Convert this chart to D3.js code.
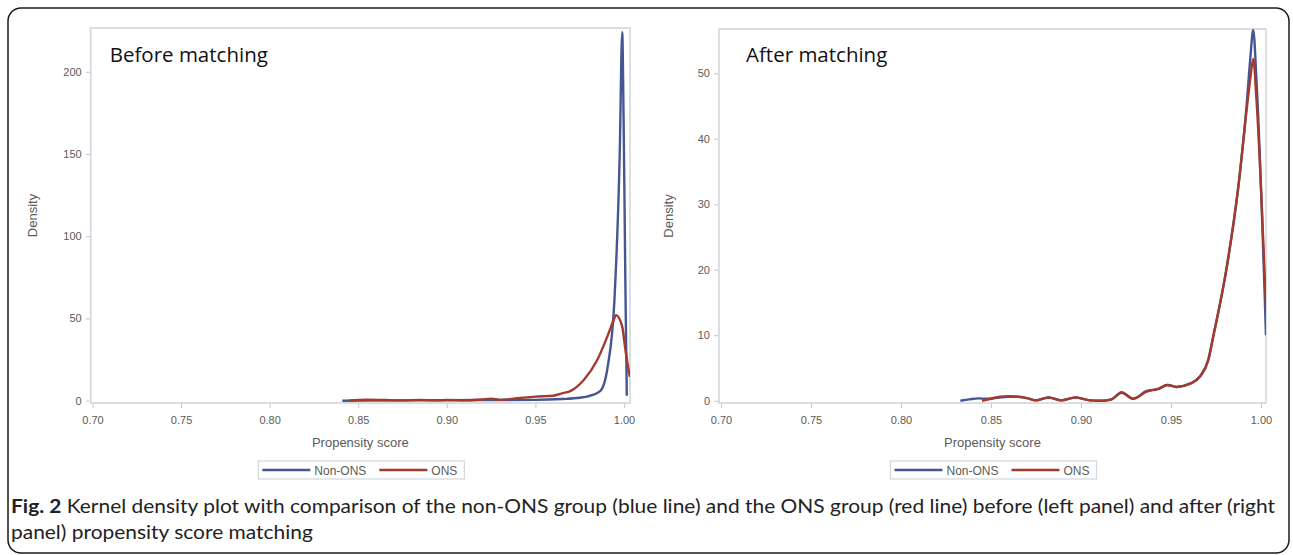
<!DOCTYPE html>
<html>
<head>
<meta charset="utf-8">
<script src="https://cdn.jsdelivr.net/npm/d3@7"></script>
<style>
  body { margin: 0; background: #fff; }
  svg { display: block; }
  .tick text { font-family: "Liberation Sans", Arial, sans-serif; fill: #5a5a5a; }
</style>
</head>
<body>
<div id="chart"></div>
<script>
const W = 1293, H = 555;

// x ticks shared by both panels
const xTicks = [0.70, 0.75, 0.80, 0.85, 0.90, 0.95, 1.00];
const yTicksBefore = [0, 50, 100, 150, 200];
const yTicksAfter = [0, 10, 20, 30, 40, 50];
const seriesNames = ["Non-ONS", "ONS"];
const seriesColors = ["#445694", "#a23a2e"];

// before matching, [propensity score, density]
const beforeNonOns = [
  [0.841, 0], [0.85, 0.1], [0.88, 0.2], [0.92, 0.4], [0.95, 0.5], [0.965, 1.0],
  [0.975, 1.8], [0.979, 2.5], [0.9867, 6], [0.9907, 20], [0.9946, 61],
  [0.9976, 150], [0.999, 224], [0.9998, 170], [1.0008, 70], [1.0016, 3]
];
const beforeOns = [
  [0.845, 0], [0.855, 0.6], [0.865, 0.4], [0.875, 0.2], [0.885, 0.5], [0.895, 0.2],
  [0.90, 0.5], [0.91, 0.2], [0.92, 0.8], [0.925, 1.2], [0.93, 0.5], [0.94, 1.5],
  [0.95, 2.5], [0.96, 3.0], [0.965, 4.5], [0.97, 6], [0.9773, 12.6], [0.9849, 24.7],
  [0.9906, 39], [0.9942, 49], [0.9955, 52], [0.999, 45], [1.0008, 31], [1.0033, 14.6]
];

// after matching
const afterNonOns = [
  [0.833, 0], [0.838, 0.2], [0.843, 0.35], [0.848, 0.3], [0.853, 0.45], [0.86, 0.6],
  [0.865, 0.6], [0.87, 0.4], [0.875, 0.05], [0.882, 0.5], [0.889, 0.05], [0.897, 0.5],
  [0.905, 0.05], [0.912, 0], [0.917, 0.2], [0.9226, 1.3], [0.929, 0.3], [0.9365, 1.5],
  [0.943, 1.8], [0.948, 2.4], [0.953, 2.1], [0.9606, 2.6], [0.9661, 3.7], [0.9707, 6.2],
  [0.9735, 9.8], [0.981, 20.4], [0.9874, 32.6], [0.992, 45], [0.994, 52], [0.9957, 56.6],
  [0.9975, 49], [1.0028, 10]
];
const afterOns = [
  [0.845, 0], [0.85, 0.3], [0.855, 0.6], [0.86, 0.7], [0.865, 0.6], [0.87, 0.4],
  [0.875, 0.05], [0.882, 0.5], [0.889, 0.05], [0.897, 0.5], [0.905, 0.05], [0.912, 0],
  [0.917, 0.2], [0.9226, 1.2], [0.929, 0.3], [0.9365, 1.4], [0.943, 1.8], [0.948, 2.4],
  [0.953, 2.1], [0.9606, 2.6], [0.9661, 3.7], [0.9707, 6.2], [0.9735, 9.8], [0.981, 20.4],
  [0.9874, 32.6], [0.992, 44.3], [0.994, 49], [0.9957, 52.2], [0.9975, 46], [1.0028, 14]
];

const panels = [
  { title: "Before matching", left: 90.7, right: 630, top: 28, bottom: 403,
    xDomain: [0.699, 1.0034], yDomain: [-1.4, 226.6], yTicks: yTicksBefore,
    titleDx: 19, labelDx: 54, series: [beforeNonOns, beforeOns] },
  { title: "After matching", left: 719, right: 1266, top: 29, bottom: 403,
    xDomain: [0.6989, 1.0028], yDomain: [-0.35, 56.76], yTicks: yTicksAfter,
    titleDx: 27, labelDx: 46, series: [afterNonOns, afterOns] }
];

const svg = d3.select("#chart").append("svg")
  .attr("width", W).attr("height", H);

// outer figure frame
svg.append("rect")
  .attr("x", 8).attr("y", 8).attr("width", 1281).attr("height", 545)
  .attr("rx", 13).attr("ry", 13)
  .attr("fill", "none").attr("stroke", "#1a1a1a").attr("stroke-width", 1.5);

panels.forEach((p, pi) => {
  const x = d3.scaleLinear().domain(p.xDomain).range([p.left, p.right]);
  const y = d3.scaleLinear().domain(p.yDomain).range([p.bottom, p.top]);
  const g = svg.append("g");

  g.append("clipPath").attr("id", "clip" + pi)
    .append("rect")
    .attr("x", p.left).attr("y", p.top - 2)
    .attr("width", p.right - p.left).attr("height", p.bottom - p.top + 2);

  // x axis
  const xa = g.append("g")
    .attr("transform", "translate(0," + p.bottom + ")")
    .call(d3.axisBottom(x).tickValues(xTicks).tickFormat(d3.format(".2f"))
      .tickSize(5).tickSizeOuter(0).tickPadding(8));
  xa.select(".domain").remove();
  xa.selectAll(".tick line").attr("stroke", "#c4c8cc");
  xa.selectAll(".tick text").attr("font-size", 11);

  // y axis
  const ya = g.append("g")
    .attr("transform", "translate(" + p.left + ",0)")
    .call(d3.axisLeft(y).tickValues(p.yTicks).tickSize(5).tickSizeOuter(0).tickPadding(4));
  ya.select(".domain").remove();
  ya.selectAll(".tick line").attr("stroke", "#c4c8cc");
  ya.selectAll(".tick text").attr("font-size", 11);

  // plot frame
  g.append("rect")
    .attr("x", p.left).attr("y", p.top)
    .attr("width", p.right - p.left).attr("height", p.bottom - p.top)
    .attr("fill", "none").attr("stroke", "#d3d7db").attr("stroke-width", 1.6);

  // density curves
  const line = d3.line()
    .x(d => x(d[0])).y(d => y(d[1]))
    .curve(d3.curveMonotoneX);
  p.series.forEach((s, si) => {
    g.append("path")
      .datum(s)
      .attr("clip-path", "url(#clip" + pi + ")")
      .attr("fill", "none")
      .attr("stroke", seriesColors[si])
      .attr("stroke-width", 2.4)
      .attr("stroke-linejoin", "round")
      .attr("d", line);
  });

  // panel title
  g.append("text")
    .attr("x", p.left + p.titleDx).attr("y", 62)
    .attr("font-family", "'Open Sans', sans-serif")
    .attr("font-size", 20.5)
    .attr("fill", "#111")
    .text(p.title);

  // axis titles
  const cx = (p.left + p.right) / 2;
  g.append("text")
    .attr("x", cx).attr("y", 447)
    .attr("text-anchor", "middle")
    .attr("font-family", "'Liberation Sans', Arial, sans-serif")
    .attr("font-size", 13).attr("fill", "#5a5a5a")
    .text("Propensity score");
  g.append("text")
    .attr("transform", "translate(" + (p.left - p.labelDx) + "," + ((p.top + p.bottom) / 2) + ") rotate(-90)")
    .attr("text-anchor", "middle")
    .attr("font-family", "'Liberation Sans', Arial, sans-serif")
    .attr("font-size", 13).attr("fill", "#5a5a5a")
    .text("Density");

  // legend
  const lw = 206, lx = cx - lw / 2 + 1, ly = 461;
  const lg = g.append("g").attr("transform", "translate(" + lx + "," + ly + ")");
  lg.append("rect").attr("width", lw).attr("height", 18)
    .attr("fill", "#fff").attr("stroke", "#d3d7db").attr("stroke-width", 1.2);
  const itemX = [4, 121];
  seriesNames.forEach((name, si) => {
    lg.append("line")
      .attr("x1", itemX[si]).attr("x2", itemX[si] + 48)
      .attr("y1", 9).attr("y2", 9)
      .attr("stroke", seriesColors[si]).attr("stroke-width", 2.4);
    lg.append("text")
      .attr("x", itemX[si] + 52).attr("y", 13.5)
      .attr("font-family", "'Liberation Sans', Arial, sans-serif")
      .attr("font-size", 12).attr("fill", "#5a5a5a")
      .text(name);
  });
});

// caption, stretched to the width of the original
const cap = svg.append("g").attr("font-family", "Lato, 'Open Sans', sans-serif")
  .attr("font-size", 19).attr("fill", "#222");
const l1 = cap.append("text").attr("x", 11).attr("y", 513);
l1.append("tspan").attr("font-weight", "bold").text("Fig. 2");
l1.append("tspan").text(" Kernel density plot with comparison of the non-ONS group (blue line) and the ONS group (red line) before (left panel) and after (right");
const l2 = cap.append("text").attr("x", 11).attr("y", 539)
  .text("panel) propensity score matching");
const fit = 1264 / l1.node().getComputedTextLength();
l1.attr("textLength", 1264).attr("lengthAdjust", "spacingAndGlyphs");
l2.attr("textLength", l2.node().getComputedTextLength() * fit).attr("lengthAdjust", "spacingAndGlyphs");
</script>
</body>
</html>
